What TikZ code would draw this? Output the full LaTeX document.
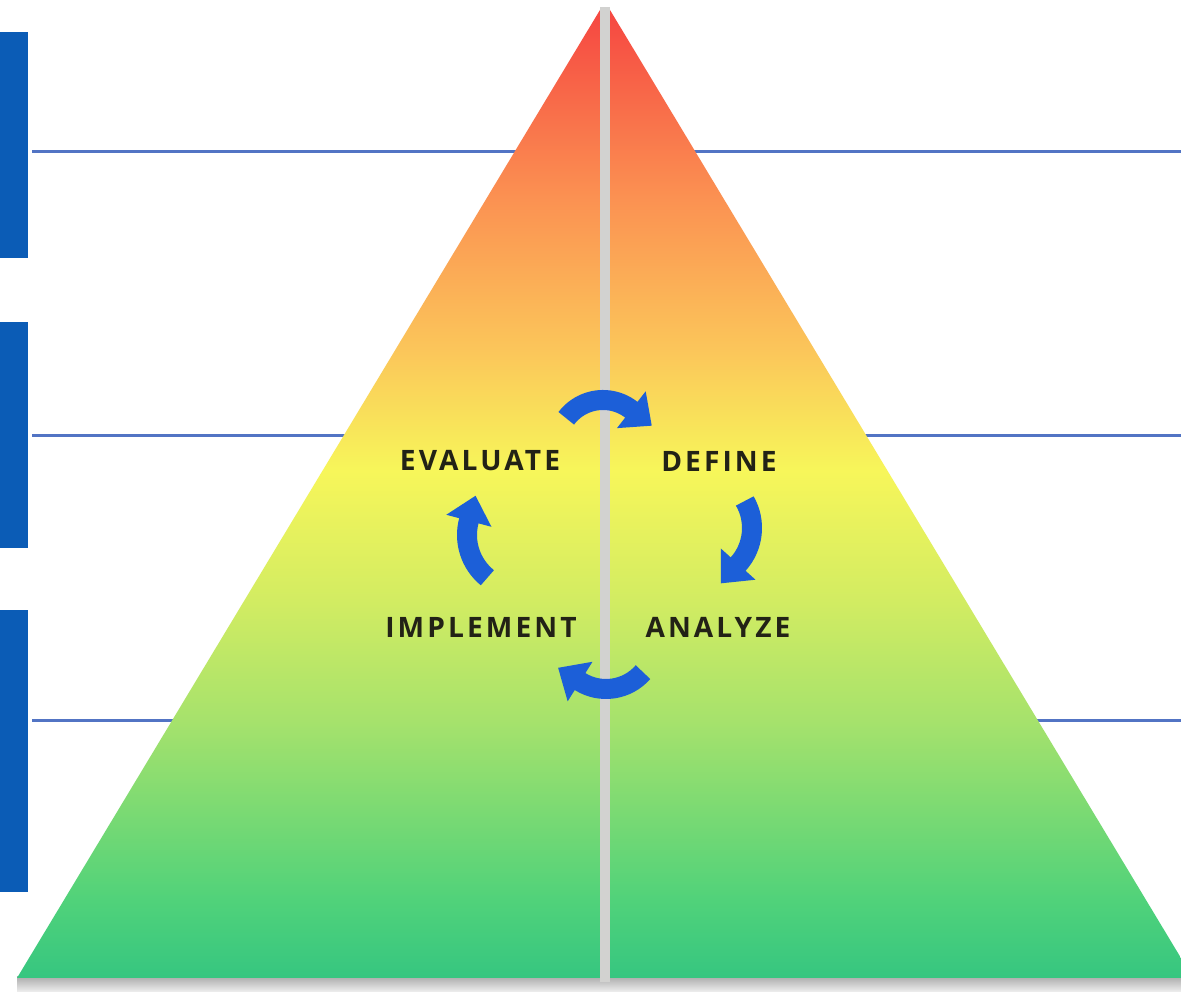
\documentclass[tikz,border=0pt]{standalone}
\usepackage{fontspec}
\setmainfont{Open Sans}
\usetikzlibrary{arrows.meta}
\definecolor{barblue}{HTML}{0B5CB6}
\definecolor{lineblue}{HTML}{5274C4}
\definecolor{arrblue}{HTML}{1C5FD8}
\definecolor{txtc}{HTML}{222216}
\definecolor{stripe}{HTML}{D2D2D0}
\definecolor{g0}{HTML}{36C680}
\definecolor{g1}{HTML}{50D27A}
\definecolor{g2}{HTML}{A6E26C}
\definecolor{g3}{HTML}{D2EC62}
\definecolor{g4}{HTML}{F7F65A}
\definecolor{g5}{HTML}{FBC65A}
\definecolor{g6}{HTML}{FB9252}
\definecolor{g7}{HTML}{F64A42}
\pgfdeclareverticalshading{pyr}{100bp}{color(0bp)=(g0); color(25bp)=(g0); color(29bp)=(g1); color(38.3bp)=(g2); color(44.5bp)=(g3); color(51.2bp)=(g4); color(57.4bp)=(g5); color(65.2bp)=(g6); color(74.5bp)=(g7); color(100bp)=(g7)}
\tikzset{
  bar/.style={fill=barblue, draw=none},
  level/.style={draw=lineblue, line width=0.03cm},
  half/.style={shading=pyr, draw=none},
  cyc/.style={draw=arrblue, line width=0.2cm, -{Triangle[length=0.26cm, width=0.45cm]}},
  lbl/.style={inner sep=0pt, text=txtc, font=\fontsize{8pt}{10pt}\selectfont\bfseries\addfontfeatures{LetterSpace=11}}
}
\begin{document}
\begin{tikzpicture}[x=0.01cm, y=-0.01cm]
\useasboundingbox (0,0) rectangle (1181,992);
\clip (0,0) rectangle (1181,992);
\fill[white] (0,0) rectangle (1181,992);
% left bars
\path[bar] (0,32) rectangle (28,258);
\path[bar] (0,322) rectangle (28,548);
\path[bar] (0,610) rectangle (28,892);
% level lines
\draw[level] (32,152) -- (1181,152);
\draw[level] (32,436) -- (1181,436);
\draw[level] (32,721) -- (1181,721);
% shadow under base
\shade[top color=black!32, bottom color=black!6] (17,977) rectangle (1181,992);
% pyramid halves
\path[half] (600,10) -- (17,978) -- (600,978) -- cycle;
\path[half] (610,10) -- (1193,978) -- (610,978) -- cycle;
% central stripe
\fill[stripe] (600,7) rectangle (610,982);
% cycle arrows (arc centres)
\coordinate (tc) at (603,446);
\coordinate (rc) at (698,528);
\coordinate (bc) at (606,640);
\coordinate (lc) at (522,535);
\draw[cyc] ([shift={(-143:46)}]tc) arc[start angle=-143, end angle=-52, radius=46] -- ++(20.5,16);
\draw[cyc] ([shift={(-30:54)}]rc) arc[start angle=-30, end angle=42, radius=54] -- ++(-17.4,19.3);
\draw[cyc] ([shift={(41:49)}]bc) arc[start angle=41, end angle=122, radius=49] -- ++(-22,-13.8);
\draw[cyc] ([shift={(129:55)}]lc) arc[start angle=129, end angle=195, radius=55] -- ++(6.7,-25.1);
% labels
\node[lbl] (evaluate) at (480,461) {EVALUATE};
\node[lbl] (define) at (719,461) {DEFINE};
\node[lbl] (implement) at (481,627) {IMPLEMENT};
\node[lbl] (analyze) at (718,627) {ANALYZE};
\end{tikzpicture}
\end{document}
